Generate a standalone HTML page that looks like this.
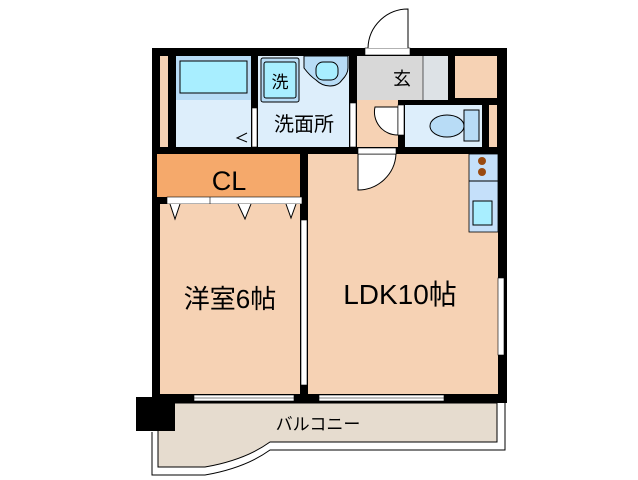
<!DOCTYPE html>
<html><head><meta charset="utf-8"><style>html,body{margin:0;padding:0;background:#fff}svg{display:block}text{font-family:"Liberation Sans","Noto Sans CJK JP",sans-serif}</style></head><body>
<svg width="638" height="480" viewBox="0 0 638 480" xmlns="http://www.w3.org/2000/svg">
<rect width="638" height="480" fill="#fff"/>
<path d="M152,432 V475 H205 Q245,468 270,450 H505 V403" fill="none" stroke="#000" stroke-width="1"/>
<path d="M158,403 H497 V442 H270 Q245,460 205,467 H158 Z" fill="#E6DCCF" stroke="#000" stroke-width="1"/>
<text x="318" y="430" font-size="17" text-anchor="middle" fill="#000">バルコニー</text>
<rect x="152" y="48" width="355" height="355" fill="#000"/>
<rect x="160" y="56" width="8" height="91" fill="#F6D2B4"/>
<rect x="176" y="56" width="75" height="91" fill="#DDEEFB"/>
<rect x="176" y="56" width="75" height="44" fill="#B8DCF6"/>
<rect x="180" y="61" width="67" height="32" fill="#A8EEFF" stroke="#000" stroke-width="1"/>
<rect x="252" y="108" width="5" height="39" fill="#fff" stroke="#000" stroke-width="0.6"/>
<path d="M247,133 L237,138 L247,142" fill="none" stroke="#000"/>
<rect x="258" y="56" width="91" height="91" fill="#DDEEFB"/>
<rect x="261" y="58" width="38" height="44" rx="2" fill="#B8DCF6" stroke="#000"/>
<rect x="264" y="62" width="32" height="36" rx="2" fill="#A8EEFF" stroke="#000"/>
<text x="280" y="88" font-size="17" text-anchor="middle">洗</text>
<path d="M304,56 V68 Q310,76 316,80 Q322,86 330,86 Q338,86 342,80 Q348,74 348,68 V56 Z" fill="#B8DCF6" stroke="#000"/>
<rect x="316" y="62" width="22" height="18" rx="7" fill="#A8EEFF" stroke="#000"/>
<text x="304" y="131" font-size="20" text-anchor="middle">洗面所</text>
<rect x="350" y="103" width="6" height="44" fill="#fff" stroke="#000" stroke-width="0.6"/>
<rect x="357" y="56" width="91" height="44" fill="#D8D8D8"/>
<rect x="423" y="56" width="25" height="44" fill="#DDE2E6"/>
<line x1="423" y1="56" x2="423" y2="100" stroke="#000" stroke-width="0.6"/>
<text x="402" y="85" font-size="18" text-anchor="middle">玄</text>
<rect x="455" y="56" width="42" height="42" fill="#F6D2B4"/>
<rect x="365" y="48" width="45" height="7" fill="#fff" stroke="#000" stroke-width="0.6"/>
<path d="M408,48 V9 A40,40 0 0 0 368,48" fill="#fff" stroke="#000"/>
<rect x="357" y="100" width="41" height="47" fill="#F6D2B4"/>
<path d="M375,107 H398 V135 A23,23 0 0 1 375,107 Z" fill="#fff" stroke="#000"/>
<rect x="398" y="105" width="6" height="30" fill="#fff" stroke="#000" stroke-width="0.6"/>
<rect x="405" y="105" width="77" height="42" fill="#DDEEFB"/>
<rect x="489" y="105" width="8" height="42" fill="#F6D2B4"/>
<ellipse cx="447" cy="126" rx="17" ry="11" fill="#B8DCF6" stroke="#000"/>
<rect x="464" y="110" width="15" height="31" fill="#B8DCF6" stroke="#000"/>
<rect x="157" y="154" width="143" height="43" fill="#F5A96B"/>
<text x="229" y="190" font-size="27" text-anchor="middle">CL</text>
<rect x="167" y="197" width="135" height="7" fill="#fff" stroke="#000" stroke-width="0.6"/>
<line x1="210" y1="197" x2="210" y2="204" stroke="#000" stroke-width="0.6"/>
<rect x="160" y="204" width="140" height="190" fill="#F6D2B4"/>
<path d="M170,204 L175,219 L180,204 M238,204 L245,219 L251,204 M286,204 L291,218 L296,204" fill="#fff" stroke="#000"/>
<text x="230" y="308" font-size="26" text-anchor="middle">洋室6帖</text>
<rect x="308" y="154" width="190" height="240" fill="#F6D2B4"/>
<path d="M358,154 V190 A38,38 0 0 0 396,154 Z" fill="#fff" stroke="#000"/>
<rect x="358" y="148" width="38" height="6" fill="#fff" stroke="#000" stroke-width="0.6"/>
<text x="400" y="304" font-size="28" text-anchor="middle">LDK10帖</text>
<rect x="469" y="154" width="29" height="78" fill="#C5E0FA" stroke="#000" stroke-width="0.8"/>
<line x1="469" y1="181" x2="498" y2="181" stroke="#000"/>
<circle cx="482" cy="161" r="4" fill="#9A4A10"/>
<circle cx="482" cy="172" r="4" fill="#9A4A10"/>
<rect x="473" y="201" width="19" height="24" fill="#A8EEFF" stroke="#000"/>
<rect x="498" y="278" width="6" height="77" fill="#fff" stroke="#000" stroke-width="0.6"/>
<rect x="301" y="220" width="6" height="165" fill="#fff" stroke="#000" stroke-width="0.6"/>
<rect x="194" y="395" width="100" height="6" fill="#fff" stroke="#000" stroke-width="0.6"/>
<line x1="194" y1="398" x2="294" y2="398" stroke="#000" stroke-width="0.5"/>
<rect x="319" y="395" width="125" height="6" fill="#fff" stroke="#000" stroke-width="0.6"/>
<line x1="319" y1="398" x2="444" y2="398" stroke="#000" stroke-width="0.5"/>
<rect x="136" y="397" width="39" height="34" fill="#000"/>
</svg>
</body></html>
